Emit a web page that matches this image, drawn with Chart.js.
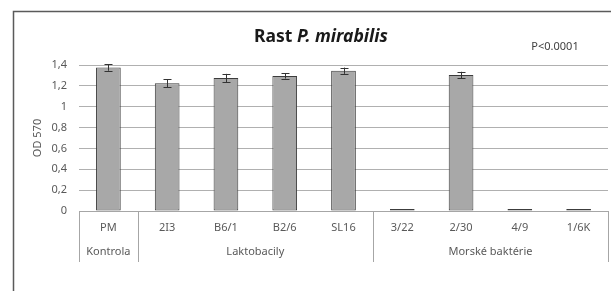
<!DOCTYPE html>
<html>
<head>
<meta charset="utf-8">
<script src="https://cdn.jsdelivr.net/npm/chart.js@4.4.1/dist/chart.umd.min.js"></script>
<style>
  html, body { margin: 0; padding: 0; background: #fff; }
  #wrap { width: 611px; height: 291px; position: relative; }
</style>
</head>
<body>
<div id="wrap"><canvas id="c"></canvas></div>
<script>
// Hodnoty odčítané z grafu
const categories = ['PM', '2I3', 'B6/1', 'B2/6', 'SL16', '3/22', '2/30', '4/9', '1/6K'];
const odValues   = [1.375, 1.225, 1.275, 1.295, 1.345, 0.02, 1.305, 0.02, 0.02];
const odErrors   = [0.03, 0.04, 0.04, 0.025, 0.03, 0, 0.03, 0, 0];
const groups     = [
  { label: 'Kontrola', from: 0, to: 0 },
  { label: 'Laktobacily', from: 1, to: 4 },
  { label: 'Morské baktérie', from: 5, to: 8 },
];
const yTicks = [0, 0.2, 0.4, 0.6, 0.8, 1, 1.2, 1.4];

const FONT = '"Noto Sans", "Open Sans", sans-serif';
const TXT = '#595959';
const EDGE = '#3c3c3c';

// rám, titulok, chybové úsečky, dvojúrovňová os x
const extras = {
  id: 'extras',
  beforeDraw(chart) {
    const { ctx } = chart;
    ctx.save();
    ctx.strokeStyle = '#5a5a5a';
    ctx.lineWidth = 1.5;
    ctx.strokeRect(13.5, 11.5, 640, 320);

    // titulok: "Rast " rovno, "P. mirabilis" kurzívou
    const a = 'Rast ', b = 'P. mirabilis';
    ctx.fillStyle = '#1a1a1a';
    ctx.textBaseline = 'alphabetic';
    ctx.textAlign = 'left';
    ctx.font = 'bold 17.5px ' + FONT;
    const wa = ctx.measureText(a).width;
    ctx.font = 'italic bold 17.5px ' + FONT;
    const wb = ctx.measureText(b).width;
    const x0 = 321 - (wa + wb) / 2;
    ctx.font = 'bold 17.5px ' + FONT;
    ctx.fillText(a, x0, 42);
    ctx.font = 'italic bold 17.5px ' + FONT;
    ctx.fillText(b, x0 + wa, 42);
    ctx.restore();
  },
  afterDatasetsDraw(chart) {
    const { ctx, scales: { x, y }, chartArea } = chart;
    ctx.save();
    // chybové úsečky
    ctx.strokeStyle = '#333';
    ctx.lineWidth = 1;
    odValues.forEach((v, i) => {
      const e = odErrors[i];
      if (!e) return;
      const px = Math.round(x.getPixelForValue(i)) + 0.5;
      const top = y.getPixelForValue(v + e), bot = y.getPixelForValue(v - e);
      ctx.beginPath();
      ctx.moveTo(px, top); ctx.lineTo(px, bot);
      ctx.moveTo(px - 4, Math.round(top) + 0.5); ctx.lineTo(px + 4, Math.round(top) + 0.5);
      ctx.moveTo(px - 4, Math.round(bot) + 0.5); ctx.lineTo(px + 4, Math.round(bot) + 0.5);
      ctx.stroke();
    });

    // oddeľovače skupín a popisy skupín
    const step = x.getPixelForValue(1) - x.getPixelForValue(0);
    const base = chartArea.bottom;
    ctx.strokeStyle = '#a6a6a6';
    ctx.lineWidth = 1;
    ctx.fillStyle = TXT;
    ctx.font = '11px ' + FONT;
    ctx.textAlign = 'center';
    ctx.textBaseline = 'middle';
    const edges = new Set();
    groups.forEach(g => {
      const l = x.getPixelForValue(g.from) - step / 2;
      const r = x.getPixelForValue(g.to) + step / 2;
      edges.add(Math.round(l)); edges.add(Math.round(r));
      ctx.fillText(g.label, (l + r) / 2, base + 41);
    });
    ctx.beginPath();
    edges.forEach(ex => { ctx.moveTo(ex + 0.5, base); ctx.lineTo(ex + 0.5, base + 51); });
    ctx.stroke();

    // P hodnota
    ctx.fillStyle = '#404040';
    ctx.font = '11px ' + FONT;
    ctx.fillText('P<0.0001', 555, 47);
    ctx.restore();
  },
};

new Chart(document.getElementById('c'), {
  type: 'bar',
  data: {
    labels: categories,
    datasets: [{
      data: odValues,
      // takmer nulové stĺpce sú v origináli len tmavá čiarka
      backgroundColor: c => (c.raw < 0.05 ? EDGE : '#a8a8a8'),
      borderColor: EDGE,
      borderWidth: 1,
      categoryPercentage: 1,
      barPercentage: 0.42,
      borderSkipped: false,
    }],
  },
  options: {
    responsive: true, maintainAspectRatio: false, animation: false,
    layout: { padding: { left: 0, right: 3, top: 65, bottom: 0 } },
    plugins: {
      legend: { display: false },
      tooltip: { enabled: false },
      title: { display: false },
    },
    scales: {
      x: {
        grid: { display: false, drawTicks: false },
        border: { display: true, color: '#a6a6a6' },
        ticks: { color: TXT, font: { family: FONT, size: 11 }, padding: 10, maxRotation: 0, autoSkip: false },
        afterFit(s) { s.height = 80; },
      },
      y: {
        min: 0, max: 1.4,
        afterBuildTicks(s) { s.ticks = yTicks.map(v => ({ value: v })); },
        grid: { color: '#b0b0b0', drawTicks: false },
        border: { display: false },
        ticks: {
          color: TXT, padding: 12,
          font: { family: FONT, size: 11 },
          callback: v => String(v).replace('.', ','),
        },
        title: {
          display: true, text: 'OD 570', color: TXT,
          font: { family: FONT, size: 11 },
          padding: { top: 31, bottom: 0 },
        },
        afterFit(s) { s.width = 79; },
      },
    },
  },
  plugins: [extras],
});
</script>
</body>
</html>
